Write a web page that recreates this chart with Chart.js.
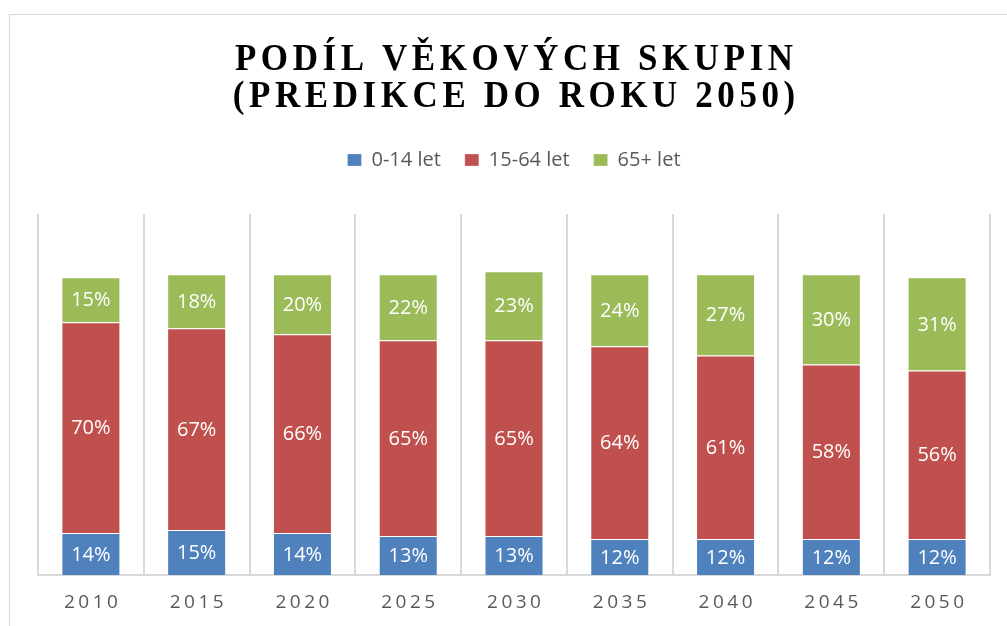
<!DOCTYPE html>
<html><head><meta charset="utf-8">
<script src="https://cdn.jsdelivr.net/npm/chart.js@4/dist/chart.umd.min.js"></script>
<style>
html,body{margin:0;padding:0;background:#fff;overflow:hidden;width:1007px;height:626px;}
#frame{position:absolute;left:9px;top:14px;width:1100px;height:700px;border:1px solid #d9d9d9;box-sizing:border-box;}
#c{position:absolute;left:0;top:0;}
</style></head><body>
<div id="frame"></div>
<canvas id="c" width="1007" height="626"></canvas>
<script>
const categories = ['2010','2015','2020','2025','2030','2035','2040','2045','2050'];
const seriesNames = ['0-14 let','15-64 let','65+ let'];
const young = [14,15,14,13,13,12,12,12,12];
const working = [70,67,66,65,65,64,61,58,56];
const senior = [15,18,20,22,23,24,27,30,31];
const titleLines = ['PODÍL VĚKOVÝCH SKUPIN','(PREDIKCE DO ROKU 2050)'];
const colors = ['#4F81BD','#C0504D','#9BBB59'];

const TITLE_FONT = 38, TITLE_LH = 37, TITLE_PAD_TOP = 38;
const TITLE_SCALE = 0.92, TITLE_LS = 5.0;

const legendGap = {
  id: 'legendGap',
  beforeInit(chart) {
    const fit = chart.legend.fit;
    chart.legend.fit = function () { fit.call(this); this.height += 34; };
  }
};

const customText = {
  id: 'customText',
  afterDatasetsDraw(chart) {
    const ctx = chart.ctx;
    ctx.save();
    ctx.font = '20px "Open Sans"';
    ctx.fillStyle = '#ffffff';
    ctx.textAlign = 'center';
    ctx.textBaseline = 'middle';
    chart.data.datasets.forEach((ds, di) => {
      const meta = chart.getDatasetMeta(di);
      meta.data.forEach((el, i) => {
        const p = el.getProps(['x', 'y', 'base'], true);
        ctx.fillText(ds.data[i] + '%', p.x, (p.y + p.base) / 2 + 1);
      });
    });
    ctx.restore();
  },
  afterDraw(chart) {
    const ctx = chart.ctx;
    const t = chart.titleBlock;
    ctx.save();
    ctx.font = 'bold ' + TITLE_FONT + 'px "Liberation Serif"';
    ctx.letterSpacing = TITLE_LS + 'px';
    ctx.fillStyle = '#000000';
    ctx.textBaseline = 'middle';
    ctx.textAlign = 'left';
    const cx = (t.left + t.right) / 2;
    titleLines.forEach((line, i) => {
      const w = ctx.measureText(line).width - TITLE_LS;
      const y = t.top + TITLE_PAD_TOP + TITLE_LH / 2 + i * TITLE_LH + 4;
      ctx.save();
      ctx.translate(cx, y);
      ctx.scale(TITLE_SCALE, 1);
      ctx.fillText(line, -w / 2, 0);
      ctx.restore();
    });
    ctx.restore();
    const xs = chart.scales.x;
    ctx.save();
    ctx.font = '19px "Open Sans"';
    ctx.letterSpacing = '3.5px';
    ctx.fillStyle = '#595959';
    ctx.textBaseline = 'middle';
    ctx.textAlign = 'left';
    categories.forEach((lab, i) => {
      const w = ctx.measureText(lab).width - 3.5;
      ctx.fillText(lab, xs.getPixelForTick(i) - w / 2, chart.chartArea.bottom + 27.5);
    });
    ctx.restore();
  }
};

new Chart(document.getElementById('c'), {
  type: 'bar',
  data: {
    labels: categories,
    datasets: [
      { label: seriesNames[0], data: young, backgroundColor: colors[0] },
      { label: seriesNames[1], data: working, backgroundColor: colors[1] },
      { label: seriesNames[2], data: senior, backgroundColor: colors[2] }
    ].map(d => Object.assign(d, {
      borderColor: 'rgba(255,255,255,0.25)', borderWidth: 1, borderSkipped: 'start',
      categoryPercentage: 1, barPercentage: 0.558
    }))
  },
  options: {
    responsive: false,
    animation: false,
    events: [],
    layout: { padding: { top: 0, left: 38, right: 17, bottom: 51 } },
    plugins: {
      title: {
        display: true,
        text: titleLines,
        color: 'rgba(0,0,0,0)',
        font: { family: 'Liberation Serif', size: TITLE_FONT, weight: 'bold', lineHeight: TITLE_LH / TITLE_FONT },
        padding: { top: TITLE_PAD_TOP, bottom: 14 }
      },
      legend: {
        display: true,
        position: 'top',
        labels: {
          boxWidth: 14, boxHeight: 12, padding: 24,
          color: '#595959',
          font: { family: 'Open Sans', size: 20 }
        }
      },
      tooltip: { enabled: false }
    },
    scales: {
      x: {
        stacked: true,
        offset: true,
        grid: { display: true, offset: true, color: '#d9d9d9', lineWidth: 2, drawTicks: false },
        border: { display: true, color: '#d9d9d9', width: 2 },
        ticks: { display: false }
      },
      y: {
        stacked: true,
        display: false,
        min: 0,
        max: 120
      }
    }
  },
  plugins: [legendGap, customText]
});
</script>
</body></html>
